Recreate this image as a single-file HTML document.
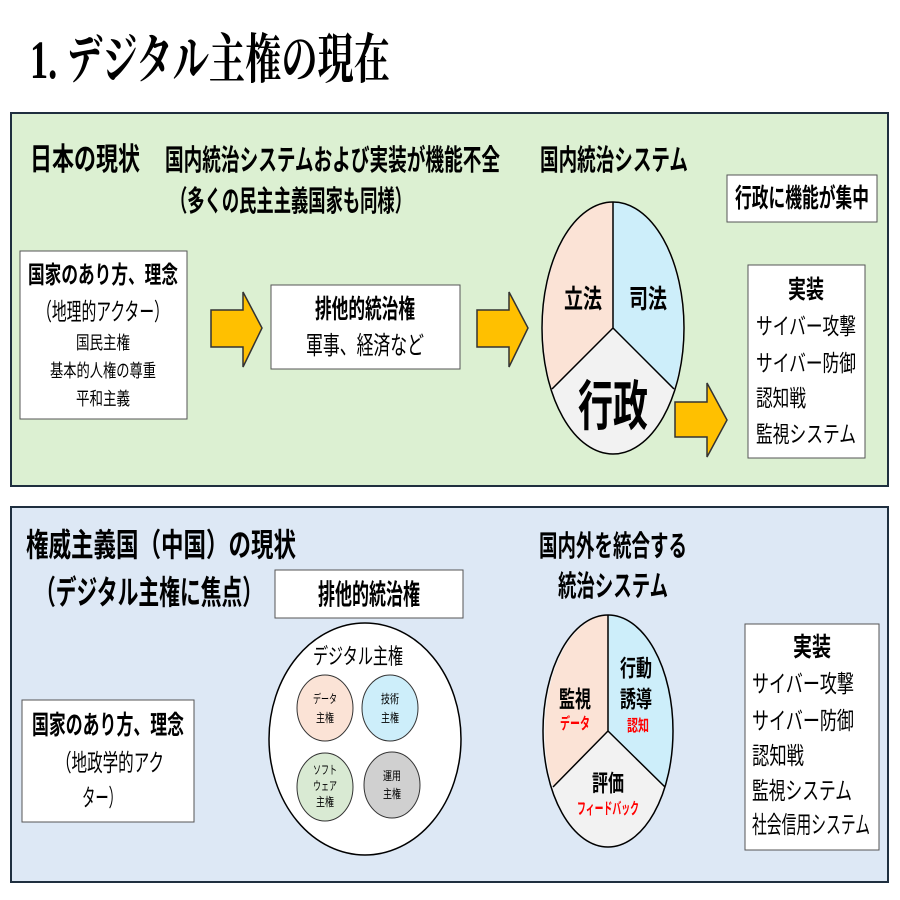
<!DOCTYPE html>
<html><head><meta charset="utf-8"><style>
html,body{margin:0;padding:0;background:#fff;}
svg{display:block;}
text{font-family:"Liberation Sans","Noto Sans CJK JP",sans-serif;fill:#000;}
.b{font-weight:bold;}
.s{font-family:"Liberation Serif","Noto Serif CJK SC",serif;}
</style></head><body>
<svg width="900" height="900" viewBox="0 0 900 900" xmlns="http://www.w3.org/2000/svg">
<text x="30" y="78" class="s b" font-size="54" textLength="360" lengthAdjust="spacingAndGlyphs">1. デジタル主権の現在</text>

<!-- top panel -->
<rect x="11" y="113" width="877" height="373" fill="#dcf0d2" stroke="#1f2f3f" stroke-width="2"/>
<text x="30" y="170" class="b" font-size="31" textLength="110" lengthAdjust="spacingAndGlyphs">日本の現状</text>
<text x="165" y="170" class="b" font-size="29" textLength="335" lengthAdjust="spacingAndGlyphs">国内統治システムおよび実装が機能不全</text>
<text x="170" y="211" class="b" font-size="29" textLength="242" lengthAdjust="spacingAndGlyphs">（多くの民主主義国家も同様）</text>
<text x="540" y="170" class="b" font-size="29" textLength="148" lengthAdjust="spacingAndGlyphs">国内統治システム</text>
<rect x="727" y="175" width="150" height="47" fill="#fff" stroke="#555"/>
<text x="802" y="207" class="b" font-size="26" text-anchor="middle" textLength="134" lengthAdjust="spacingAndGlyphs">行政に機能が集中</text>

<rect x="20" y="251" width="167" height="168" fill="#fff" stroke="#555"/>
<text x="103" y="283" class="b" font-size="24" text-anchor="middle" textLength="150" lengthAdjust="spacingAndGlyphs">国家のあり方、理念</text>
<text x="103" y="320" font-size="24" text-anchor="middle" textLength="132" lengthAdjust="spacingAndGlyphs">（地理的アクター）</text>
<text x="103" y="349" font-size="18" text-anchor="middle" textLength="54" lengthAdjust="spacingAndGlyphs">国民主権</text>
<text x="103" y="377" font-size="18" text-anchor="middle" textLength="106" lengthAdjust="spacingAndGlyphs">基本的人権の尊重</text>
<text x="103" y="405" font-size="18" text-anchor="middle" textLength="54" lengthAdjust="spacingAndGlyphs">平和主義</text>

<g fill="#ffc000" stroke="#333" stroke-width="1.5">
<path d="M211,310 H243 V292 L262,328 L243,367 V347 H211 Z"/>
<path d="M477,310 H509 V292 L528,328 L509,367 V347 H477 Z"/>
<path d="M675,402 H707 V383 L727,420 L707,457 V437 H675 Z"/>
<path d="M210,720 H242 V702 L262,739 L242,777 V757 H210 Z"/>
<path d="M477,720 H509 V702 L528,739 L509,777 V757 H477 Z"/>
<path d="M685,718 H717 V700 L737,737 L717,774 V755 H685 Z"/>
</g>

<rect x="271" y="285" width="189" height="84" fill="#fff" stroke="#555"/>
<text x="365" y="318" class="b" font-size="26" text-anchor="middle" textLength="100" lengthAdjust="spacingAndGlyphs">排他的統治権</text>
<text x="365" y="354" font-size="25" text-anchor="middle" textLength="118" lengthAdjust="spacingAndGlyphs">軍事、経済など</text>

<!-- ellipse top -->
<ellipse cx="613" cy="328" rx="71" ry="126" fill="#f2f2f2"/>
<path d="M613,328 L613,202 A71,126 0 0 0 552,389 Z" fill="#fbe3d6"/>
<path d="M613,328 L613,202 A71,126 0 0 1 674,389 Z" fill="#cdeefa"/>
<ellipse cx="613" cy="328" rx="71" ry="126" fill="none" stroke="#000" stroke-width="1.5"/>
<path d="M613,202 V328 L552,389 M613,328 L674,389" fill="none" stroke="#000" stroke-width="1.5"/>
<text x="583" y="308" class="b" font-size="26" text-anchor="middle" textLength="38" lengthAdjust="spacingAndGlyphs">立法</text>
<text x="648" y="308" class="b" font-size="26" text-anchor="middle" textLength="38" lengthAdjust="spacingAndGlyphs">司法</text>
<text x="613" y="425" class="b" font-size="54" text-anchor="middle" textLength="70" lengthAdjust="spacingAndGlyphs">行政</text>

<rect x="748" y="265" width="117" height="193" fill="#fff" stroke="#555"/>
<text x="806" y="298" class="b" font-size="25" text-anchor="middle" textLength="36" lengthAdjust="spacingAndGlyphs">実装</text>
<text x="756" y="334" font-size="23" textLength="100" lengthAdjust="spacingAndGlyphs">サイバー攻撃</text>
<text x="756" y="371" font-size="23" textLength="100" lengthAdjust="spacingAndGlyphs">サイバー防御</text>
<text x="756" y="406" font-size="23" textLength="50" lengthAdjust="spacingAndGlyphs">認知戦</text>
<text x="756" y="442" font-size="23" textLength="100" lengthAdjust="spacingAndGlyphs">監視システム</text>

<!-- bottom panel -->
<rect x="11" y="507" width="877" height="375" fill="#dde8f5" stroke="#1f2f3f" stroke-width="2"/>
<text x="26" y="556" class="b" font-size="32" textLength="270" lengthAdjust="spacingAndGlyphs">権威主義国（中国）の現状</text>
<text x="35" y="604" class="b" font-size="33" textLength="228" lengthAdjust="spacingAndGlyphs">（デジタル主権に焦点）</text>
<rect x="275" y="570" width="188" height="48" fill="#fff" stroke="#555"/>
<text x="369" y="604" class="b" font-size="28" text-anchor="middle" textLength="102" lengthAdjust="spacingAndGlyphs">排他的統治権</text>

<ellipse cx="365" cy="739" rx="96" ry="116" fill="#fff" stroke="#000" stroke-width="1.5"/>
<text x="358" y="664" font-size="22" text-anchor="middle" textLength="90" lengthAdjust="spacingAndGlyphs">デジタル主権</text>
<ellipse cx="325" cy="708" rx="28" ry="33" fill="#fbe3d6" stroke="#333"/>
<ellipse cx="390" cy="708" rx="28" ry="33" fill="#cdeefa" stroke="#333"/>
<ellipse cx="325" cy="787" rx="28" ry="34" fill="#d9ead3" stroke="#333"/>
<ellipse cx="392" cy="785" rx="28" ry="33" fill="#d0d0d0" stroke="#333"/>
<g font-size="12" text-anchor="middle" style="fill:#333">
<text x="325" y="703" textLength="24" lengthAdjust="spacingAndGlyphs">データ</text><text x="325" y="722" textLength="18" lengthAdjust="spacingAndGlyphs">主権</text>
<text x="390" y="703" textLength="18" lengthAdjust="spacingAndGlyphs">技術</text><text x="390" y="722" textLength="18" lengthAdjust="spacingAndGlyphs">主権</text>
<text x="325" y="774" textLength="24" lengthAdjust="spacingAndGlyphs">ソフト</text><text x="325" y="790" textLength="24" lengthAdjust="spacingAndGlyphs">ウェア</text><text x="325" y="806" textLength="18" lengthAdjust="spacingAndGlyphs">主権</text>
<text x="392" y="780" textLength="18" lengthAdjust="spacingAndGlyphs">運用</text><text x="392" y="798" textLength="18" lengthAdjust="spacingAndGlyphs">主権</text>
</g>

<rect x="22" y="700" width="172" height="122" fill="#fff" stroke="#555"/>
<text x="108" y="734" class="b" font-size="26" text-anchor="middle" textLength="152" lengthAdjust="spacingAndGlyphs">国家のあり方、理念</text>
<text x="110" y="771" font-size="24" text-anchor="middle" textLength="108" lengthAdjust="spacingAndGlyphs">（地政学的アク</text>
<text x="102" y="806" font-size="24" text-anchor="middle" textLength="40" lengthAdjust="spacingAndGlyphs">ター）</text>

<text x="613" y="556" class="b" font-size="29" text-anchor="middle" textLength="148" lengthAdjust="spacingAndGlyphs">国内外を統合する</text>
<text x="613" y="596" class="b" font-size="29" text-anchor="middle" textLength="110" lengthAdjust="spacingAndGlyphs">統治システム</text>

<ellipse cx="608" cy="731" rx="65" ry="116" fill="#f2f2f2"/>
<path d="M608,731 L608,615 A65,116 0 0 0 553,787 Z" fill="#fbe3d6"/>
<path d="M608,731 L608,615 A65,116 0 0 1 665,787 Z" fill="#cdeefa"/>
<ellipse cx="608" cy="731" rx="65" ry="116" fill="none" stroke="#000" stroke-width="1.5"/>
<path d="M608,615 V731 L553,787 M608,731 L665,787" fill="none" stroke="#000" stroke-width="1.5"/>
<text x="575" y="707" class="b" font-size="23" text-anchor="middle" textLength="32" lengthAdjust="spacingAndGlyphs">監視</text>
<text x="575" y="729" class="b" font-size="16" text-anchor="middle" style="fill:#f00" textLength="30" lengthAdjust="spacingAndGlyphs">データ</text>
<text x="636" y="676" class="b" font-size="23" text-anchor="middle" textLength="32" lengthAdjust="spacingAndGlyphs">行動</text>
<text x="636" y="707" class="b" font-size="23" text-anchor="middle" textLength="32" lengthAdjust="spacingAndGlyphs">誘導</text>
<text x="638" y="731" class="b" font-size="16" text-anchor="middle" style="fill:#f00" textLength="22" lengthAdjust="spacingAndGlyphs">認知</text>
<text x="608" y="791" class="b" font-size="23" text-anchor="middle" textLength="32" lengthAdjust="spacingAndGlyphs">評価</text>
<text x="608" y="814" class="b" font-size="16" text-anchor="middle" style="fill:#f00" textLength="62" lengthAdjust="spacingAndGlyphs">フィードバック</text>

<rect x="745" y="624" width="134" height="226" fill="#fff" stroke="#555"/>
<text x="812" y="656" class="b" font-size="26" text-anchor="middle" textLength="38" lengthAdjust="spacingAndGlyphs">実装</text>
<text x="752" y="692" font-size="24" textLength="102" lengthAdjust="spacingAndGlyphs">サイバー攻撃</text>
<text x="752" y="729" font-size="24" textLength="102" lengthAdjust="spacingAndGlyphs">サイバー防御</text>
<text x="752" y="764" font-size="24" textLength="52" lengthAdjust="spacingAndGlyphs">認知戦</text>
<text x="752" y="799" font-size="24" textLength="100" lengthAdjust="spacingAndGlyphs">監視システム</text>
<text x="752" y="833" font-size="24" textLength="118" lengthAdjust="spacingAndGlyphs">社会信用システム</text>
</svg>
</body></html>
